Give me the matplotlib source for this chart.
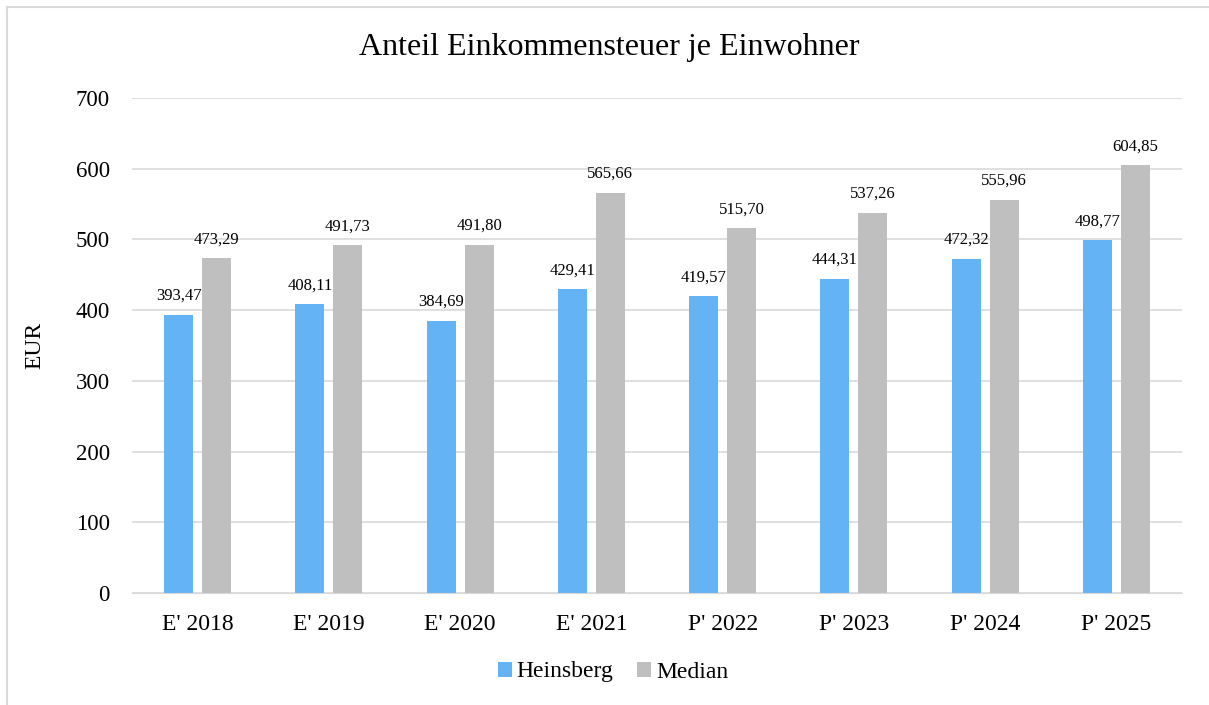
import numpy as np
import matplotlib.pyplot as plt
from matplotlib.lines import Line2D

kategorien = ["E' 2018", "E' 2019", "E' 2020", "E' 2021", "P' 2022", "P' 2023", "P' 2024", "P' 2025"]
heinsberg = [393.47, 408.11, 384.69, 429.41, 419.57, 444.31, 472.32, 498.77]
median = [473.29, 491.73, 491.80, 565.66, 515.70, 537.26, 555.96, 604.85]

plt.rcParams['font.family'] = ['Liberation Serif', 'DejaVu Serif']

fig = plt.figure(figsize=(12.09, 7.05), dpi=100)
ax = fig.add_axes([132/1209, 1-593/705, 1050/1209, 495/705])

x = np.arange(len(kategorien))
b = 0.22
g = 0.07
off = (b + g) / 2
r1 = ax.bar(x - off, heinsberg, b, color='#63b3f5', label='Heinsberg', zorder=2)
r2 = ax.bar(x + off, median, b, color='#bfbfbf', label='Median', zorder=2)

for rects, vals in ((r1, heinsberg), (r2, median)):
    for r, v in zip(rects, vals):
        ax.annotate(f"{v:.2f}".replace('.', ','), (r.get_x() + r.get_width()/2, v),
                    xytext=(0, 8), textcoords='offset points', ha='center', va='bottom', fontsize=12)

ax.set_xlim(-0.5, len(kategorien) - 0.5)
ax.set_ylim(0, 700)
ax.set_yticks(range(0, 701, 100))
ax.set_xticks(x)
ax.set_xticklabels(kategorien)
ax.tick_params(axis='x', length=0, labelsize=17, pad=15)
ax.tick_params(axis='y', length=0, labelsize=16.5, pad=16)
ax.yaxis.grid(True, color='#d9d9d9', linewidth=1.2, zorder=0)
for s in ['top', 'right', 'left']:
    ax.spines[s].set_visible(False)
ax.spines['bottom'].set_color('#d9d9d9')
ax.set_ylabel('EUR', fontsize=17, labelpad=22)

fig.text(609/1209, 1-48/705, 'Anteil Einkommensteuer je Einwohner', fontsize=23,
         ha='center', va='center')

h, l = ax.get_legend_handles_labels()
fig.legend(h, l, loc='center', bbox_to_anchor=(613/1209, 1-672/705), ncol=2, frameon=False,
           fontsize=17, handlelength=0.6, handleheight=0.6, handletextpad=0.2, columnspacing=1.0)

fig.add_artist(Line2D([7/1209, 7/1209], [0, 1-7/705], color='#d9d9d9', linewidth=1.5))
fig.add_artist(Line2D([7/1209, 1], [1-7/705, 1-7/705], color='#d9d9d9', linewidth=1.5))

plt.savefig('out.png', dpi=100)
